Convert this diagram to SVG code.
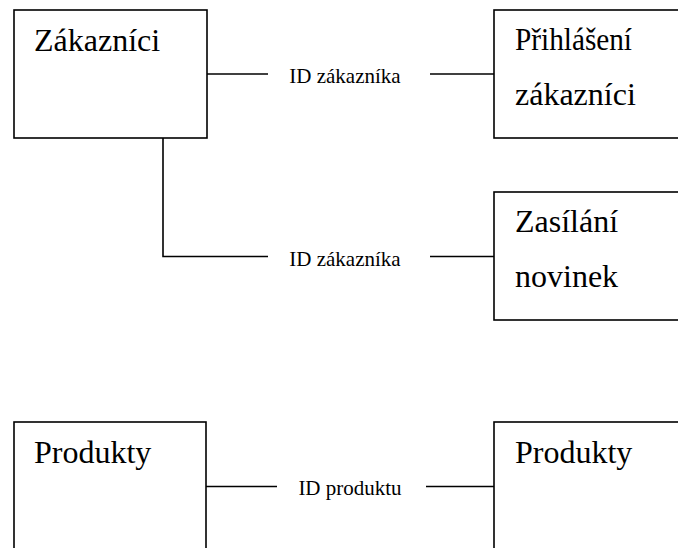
<svg xmlns="http://www.w3.org/2000/svg" width="678" height="548" viewBox="0 0 678 548">
  <style>
    .box { fill: #ffffff; stroke: #000000; stroke-width: 1.6; }
    .conn { fill: none; stroke: #000000; stroke-width: 1.6; }
  </style>
  <rect x="0" y="0" width="678" height="548" fill="#ffffff"/>
  <g id="connectors">
    <line class="conn" x1="207" y1="74" x2="268" y2="74"/>
    <line class="conn" x1="430" y1="74" x2="494" y2="74"/>
    <polyline class="conn" points="163,138 163,256.5 268,256.5"/>
    <line class="conn" x1="430" y1="256.5" x2="494" y2="256.5"/>
    <line class="conn" x1="206" y1="486.5" x2="277" y2="486.5"/>
    <line class="conn" x1="426" y1="486.5" x2="494" y2="486.5"/>
    <g font-family="Liberation Serif" font-size="21" text-anchor="middle" fill="#000000">
      <text x="345" y="83">ID zákazníka</text>
      <text x="345" y="266">ID zákazníka</text>
      <text x="350" y="495">ID produktu</text>
    </g>
  </g>
  <g font-family="Liberation Serif" font-size="32" fill="#000000">
    <g id="zakaznici">
      <rect class="box" x="14" y="10" width="193" height="128"/>
      <text x="34" y="51">Zákazníci</text>
    </g>
    <g id="prihlaseni">
      <rect class="box" x="494" y="10" width="200" height="128"/>
      <text x="515" y="50" textLength="117" lengthAdjust="spacingAndGlyphs">Přihlášení</text>
      <text x="515" y="105">zákazníci</text>
    </g>
    <g id="zasilani">
      <rect class="box" x="494" y="192" width="200" height="128"/>
      <text x="515" y="232">Zasílání</text>
      <text x="515" y="287">novinek</text>
    </g>
    <g id="produkty-left">
      <rect class="box" x="14" y="422" width="192" height="140"/>
      <text x="34" y="463">Produkty</text>
    </g>
    <g id="produkty-right">
      <rect class="box" x="494" y="422" width="200" height="140"/>
      <text x="515" y="463">Produkty</text>
    </g>
  </g>
</svg>
